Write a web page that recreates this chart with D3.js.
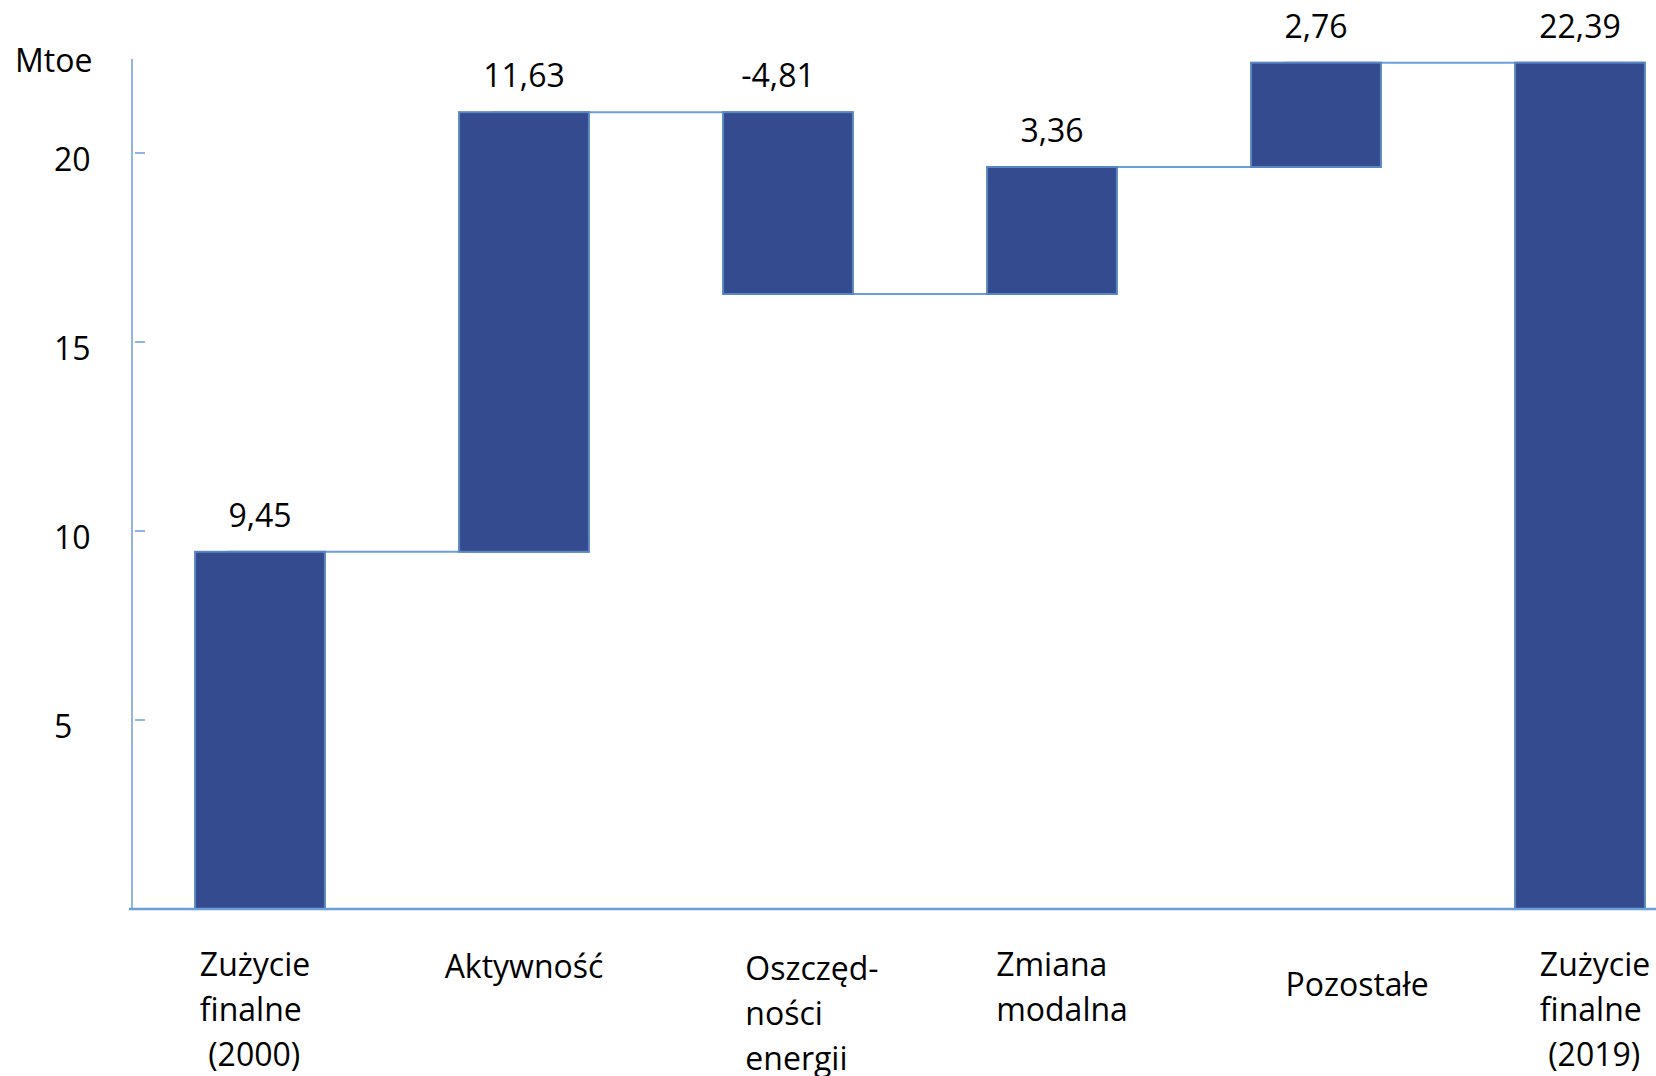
<!DOCTYPE html>
<html>
<head>
<meta charset="utf-8">
<script src="https://cdn.jsdelivr.net/npm/d3@7"></script>
<style>
  html, body { margin: 0; padding: 0; background: #fff; }
  svg { display: block; }
  text { font-family: "Open Sans", "Noto Sans", sans-serif; fill: #000; }
</style>
</head>
<body>
<script>
// ---- data ----
const categories = ["Zużycie\nfinalne\n (2000)", "Aktywność", "Oszczęd-\nności\nenergii", "Zmiana\nmodalna", "Pozostałe", "Zużycie\nfinalne\n (2019)"];
const values = [9.45, 11.63, -4.81, 3.36, 2.76, 22.39];
const isTotal = [true, false, false, false, false, true];
const yTicks = [5, 10, 15, 20];
const unitLabel = "Mtoe";

// ---- layout (not data) ----
const W = 1656, H = 1076;
const labelDx = [-5, 0, 24, 10, 41, 15];
const labelDy = [0, 2, 4, 0, 20, 0];
const barFill = "#344b8f", barStroke = "#5b86c2", lineColor = "#6a9fd8";

const svg = d3.select("body").append("svg").attr("width", W).attr("height", H);

const axisX = 132;
const x = d3.scaleBand().domain(d3.range(categories.length)).range([128, 1712])
  .paddingInner(0.508).paddingOuter(0.254);
const y = d3.scaleLinear().domain([0, 20]).range([909, 153]);

// compute waterfall extents
let run = 0;
const bars = values.map((v, i) => {
  let lo, hi, end;
  if (isTotal[i]) { lo = 0; hi = v; end = v; }
  else { const s = run; end = run + v; lo = Math.min(s, end); hi = Math.max(s, end); }
  run = end;
  return { i, v, lo, hi, end };
});

// connectors
const bw = x.bandwidth();
const conn = svg.append("g");
bars.slice(0, -1).forEach((b, k) => {
  conn.append("line")
    .attr("x1", x(k) + bw * 0.25).attr("x2", x(k + 1) + bw)
    .attr("y1", y(b.end)).attr("y2", y(b.end))
    .attr("stroke", lineColor).attr("stroke-width", 2);
});

// bars
svg.append("g").selectAll("rect").data(bars).join("rect")
  .attr("x", d => x(d.i)).attr("width", bw)
  .attr("y", d => y(d.hi)).attr("height", d => y(d.lo) - y(d.hi))
  .attr("fill", barFill).attr("stroke", barStroke).attr("stroke-width", 2);

// axes
svg.append("line").attr("x1", axisX).attr("x2", axisX).attr("y1", 59).attr("y2", y(0))
  .attr("stroke", lineColor).attr("stroke-width", 1.5);
svg.append("line").attr("x1", 129).attr("x2", W).attr("y1", y(0)).attr("y2", y(0))
  .attr("stroke", lineColor).attr("stroke-width", 2.5);

const ticks = svg.append("g");
yTicks.forEach(t => {
  ticks.append("line").attr("x1", axisX + 3).attr("x2", axisX + 13)
    .attr("y1", y(t)).attr("y2", y(t)).attr("stroke", lineColor).attr("stroke-width", 1.5);
  ticks.append("text").attr("x", 54).attr("y", y(t) + 18)
    .attr("font-size", 32).text(t);
});

svg.append("text").attr("x", 15).attr("y", 72).attr("font-size", 32).text(unitLabel);

// value labels
const fmt = d3.formatLocale({ decimal: ",", thousands: " ", grouping: [3], currency: ["", ""], minus: "-" }).format(".2f");
svg.append("g").selectAll("text").data(bars).join("text")
  .attr("x", d => x(d.i) + bw / 2 + (d.v < 0 ? -10 : 0)).attr("y", d => y(d.hi) - 25)
  .attr("text-anchor", "middle").attr("font-size", 32)
  .text(d => fmt(d.v));

// category labels (left-aligned lines, block centered under bar)
const cat = svg.append("g");
categories.forEach((c, i) => {
  const lines = c.split("\n");
  const t = cat.append("text").attr("font-size", 32);
  lines.forEach((ln, k) => {
    t.append("tspan").attr("x", 0).attr("y", 976 + labelDy[i] + k * 45)
      .attr("xml:space", "preserve").style("white-space", "pre").text(ln);
  });
  const bb = t.node().getBBox();
  t.attr("transform", `translate(${x(i) + bw / 2 - bb.width / 2 + labelDx[i]},0)`);
});
</script>
</body>
</html>
